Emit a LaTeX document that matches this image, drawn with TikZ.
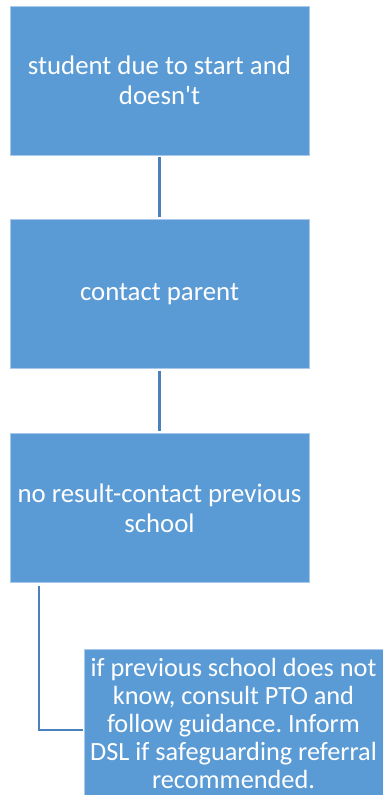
\documentclass[tikz,border=0pt]{standalone}
\usepackage{fontspec}
\setmainfont{Carlito}
\frenchspacing
\definecolor{boxblue}{HTML}{5B9BD5}
\definecolor{boxedge}{HTML}{A8C9EB}
\definecolor{lineblue}{HTML}{4A80BD}
\begin{document}
\begin{tikzpicture}[x=1pt,y=-1pt,
  box/.style={rectangle, fill=boxblue, draw=boxedge, line width=0.6pt,
    minimum width=299pt, minimum height=149pt, inner sep=0pt,
    align=center, text=white, font=\fontsize{26.8}{30}\selectfont},
  conn/.style={draw=lineblue, line width=2.2pt}]
\useasboundingbox (0,0) rectangle (383,795);
\clip (0,0) rectangle (383,795);
\node[box] (b1) at (159.5,80.5) {student due to start and\\doesn\textquotesingle t};
\node[box] (b2) at (159.5,294) {contact parent};
\node[box] (b3) at (159.5,508) {no result-contact previous\\school};
\node[box, font=\fontsize{26.3}{28}\selectfont] (b4) at (233.5,723.5)
  {if previous school does not\\know, consult PTO and\\follow guidance. Inform\\DSL if safeguarding referral\\recommended.};
\draw[conn, shorten <=2pt, shorten >=2pt] (b1.south) -- (b2.north);
\draw[conn, shorten <=2pt, shorten >=2pt] (b2.south) -- (b3.north);
\coordinate (e1) at ([xshift=29pt,yshift=-3pt]b3.south west);
\draw[conn, shorten >=1pt] (e1) |- ([yshift=-6.5pt]b4.west);
\end{tikzpicture}
\end{document}
